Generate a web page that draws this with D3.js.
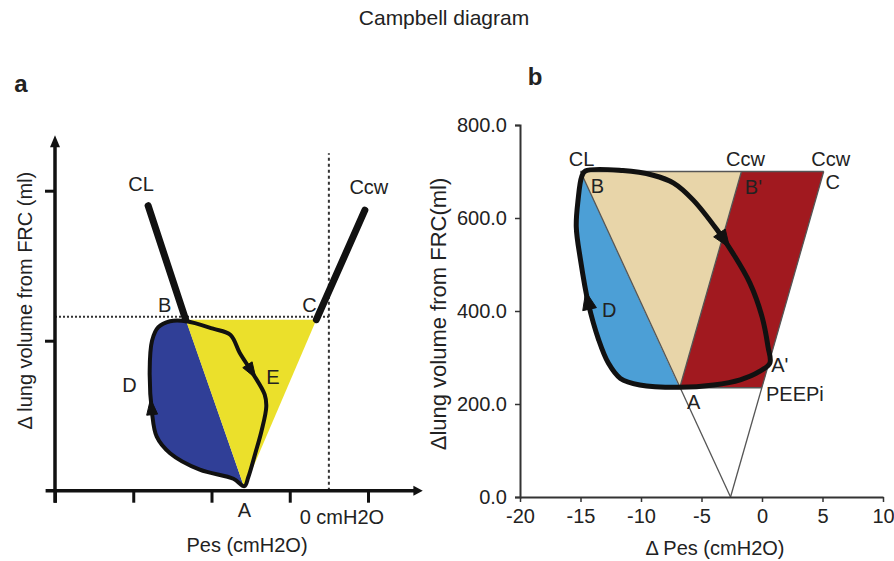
<!DOCTYPE html>
<html>
<head>
<meta charset="utf-8">
<script src="https://cdn.jsdelivr.net/npm/d3@7"></script>
<style>
  body { margin: 0; background: #fff; }
  svg { display: block; font-family: "Liberation Sans", Arial, Helvetica, sans-serif; }
</style>
</head>
<body>
<svg id="chart" width="894" height="561"></svg>
<script>
// ---------- Panel a: schematic Campbell diagram (arbitrary units) ----------
const schemeTicksX = [0, 1, 2, 3, 4];
const schemeTicksY = [1, 2];
const zeroPesA = 3.5;          // position of 0 cmH2O
const endInspVolA = 1.16;      // end-inspiratory volume level
const ptA_a = [2.42, 0.02];    // A: end expiration
const ptB_a = [1.67, 1.14];    // B: end inspiration on CL
const ptC_a = [3.34, 1.14];    // C: end inspiration on Ccw
const clEnd_a = [1.19, 1.90];
const ccwEnd_a = [3.96, 1.87];
const loopA = [
  [2.42, 0.03], [2.28, 0.08], [1.85, 0.14], [1.47, 0.25], [1.30, 0.36], [1.24, 0.52],
  [1.21, 0.80], [1.24, 1.00], [1.32, 1.09], [1.47, 1.13], [1.68, 1.13],
  [2.02, 1.08], [2.24, 1.04], [2.36, 0.92], [2.53, 0.78], [2.68, 0.64], [2.70, 0.56],
  [2.64, 0.40], [2.56, 0.25], [2.47, 0.09]
];
const loopA_B = 10;            // index of B within loopA
const arrowsA = [[2.53, 0.80], [1.22, 0.56]];

// ---------- Panel b: Campbell diagram with PEEPi ----------
const pesTicks = [-20, -15, -10, -5, 0, 5, 10];
const volTicks = [0, 200, 400, 600, 800];
const apexB = [-2.6, 0];       // common origin of CL and Ccw lines
const ptA = [-6.8, 235];
const ptPEEPi = [0, 235];
const ptB = [-15, 700];
const ptBprime = [-1.7, 700];
const ptC = [5.1, 700];
const ptAprime = [0.65, 288];
const loopB = [
  [-6.8, 236], [-10.1, 241], [-11.7, 255], [-12.7, 288], [-13.5, 338], [-14.35, 416],
  [-15.0, 510], [-15.35, 581], [-15.2, 639], [-14.9, 689], [-14.6, 701],
  [-11.5, 702], [-9.0, 692], [-7.3, 675], [-5.7, 639], [-3.7, 574], [-2.4, 524],
  [-1.0, 460], [0.0, 388], [0.5, 323], [0.65, 288],
  [-0.2, 270], [-1.8, 252], [-4.0, 241]
];
const loopB_B = 10;
const arrowsB = [[-3.06, 553], [-14.2, 424]];

const svg = d3.select("#chart");
const ink = "#111";
const textCol = "#222";

// Title and panel letters
svg.append("text").attr("x", 444).attr("y", 25).attr("text-anchor", "middle")
  .attr("font-size", 21).attr("fill", textCol).text("Campbell diagram");
svg.append("text").attr("x", 21).attr("y", 92).attr("text-anchor", "middle")
  .attr("font-size", 24).attr("font-weight", "bold").attr("fill", textCol).text("a");
svg.append("text").attr("x", 535).attr("y", 85).attr("text-anchor", "middle")
  .attr("font-size", 24).attr("font-weight", "bold").attr("fill", textCol).text("b");

// Draw an arrowhead on a path, centred at the path point nearest to target (px)
function addArrow(g, pathNode, target, len, wid) {
  const total = pathNode.getTotalLength();
  let best = 0, bestD = Infinity;
  for (let l = 0; l < total; l += 0.5) {
    const p = pathNode.getPointAtLength(l);
    const d = (p.x - target[0]) ** 2 + (p.y - target[1]) ** 2;
    if (d < bestD) { bestD = d; best = l; }
  }
  const p0 = pathNode.getPointAtLength(Math.max(0, best - 3));
  const p1 = pathNode.getPointAtLength(Math.min(total, best + 3));
  const ang = Math.atan2(p1.y - p0.y, p1.x - p0.x);
  const c = pathNode.getPointAtLength(best);
  const ux = Math.cos(ang), uy = Math.sin(ang), nx = -uy, ny = ux;
  const tip = [c.x + ux * len / 2, c.y + uy * len / 2];
  const back = [c.x - ux * len / 2, c.y - uy * len / 2];
  const pts = [tip, [back[0] + nx * wid / 2, back[1] + ny * wid / 2], [back[0] - nx * wid / 2, back[1] - ny * wid / 2]];
  g.append("path").attr("d", d3.line()(pts) + "Z").attr("fill", ink).attr("stroke", ink)
    .attr("stroke-width", 1).attr("stroke-linejoin", "round");
}

function label(g, x, y, txt, size, anchor) {
  return g.append("text").attr("x", x).attr("y", y).attr("dy", "0.36em")
    .attr("text-anchor", anchor || "middle").attr("font-size", size || 20)
    .attr("fill", textCol).text(txt);
}

// ================= Panel a =================
{
  const g = svg.append("g");
  const x = d3.scaleLinear().domain([0, 4]).range([55, 368]);
  const y = d3.scaleLinear().domain([0, 2]).range([490.7, 190.7]);
  const P = d => [x(d[0]), y(d[1])];

  // Blue area: loop from A up the left side to B, closed along the CL line
  const openCurve = d3.line().curve(d3.curveCatmullRom.alpha(0.5));
  const bluePts = loopA.slice(0, loopA_B + 1).map(P);
  g.append("path").attr("d", openCurve(bluePts) + "L" + P(ptA_a).join(",") + "Z")
    .attr("fill", "#303f97");
  // Yellow triangle B-C-A
  g.append("path").attr("d", d3.line()([ptB_a, ptC_a, ptA_a].map(P)) + "Z")
    .attr("fill", "#ebe02b");

  // Reference lines
  g.append("line").attr("x1", x(0)).attr("x2", x(zeroPesA))
    .attr("y1", y(endInspVolA)).attr("y2", y(endInspVolA))
    .attr("stroke", "#333").attr("stroke-width", 2).attr("stroke-dasharray", "2,2");
  g.append("line").attr("x1", x(zeroPesA)).attr("x2", x(zeroPesA))
    .attr("y1", y(0)).attr("y2", y(2.25))
    .attr("stroke", "#333").attr("stroke-width", 2).attr("stroke-dasharray", "3,3");

  // Axes with arrowheads
  const axisStroke = "#111";
  g.append("line").attr("x1", x(-0.12)).attr("x2", x(4.62)).attr("y1", y(0)).attr("y2", y(0))
    .attr("stroke", axisStroke).attr("stroke-width", 3.5);
  g.append("path").attr("d", d3.line()([[x(4.70), y(0)], [x(4.58), y(0) - 5], [x(4.58), y(0) + 5]]) + "Z")
    .attr("fill", axisStroke);
  g.append("line").attr("x1", x(0)).attr("x2", x(0)).attr("y1", y(-0.08)).attr("y2", y(2.30))
    .attr("stroke", axisStroke).attr("stroke-width", 3.5);
  g.append("path").attr("d", d3.line()([[x(0), y(2.37)], [x(0) - 5, y(2.29)], [x(0) + 5, y(2.29)]]) + "Z")
    .attr("fill", axisStroke);

  const xAxis = g.append("g").attr("transform", `translate(0,${y(0)})`)
    .call(d3.axisBottom(x).tickValues(schemeTicksX).tickSize(12).tickFormat(""));
  const yAxis = g.append("g").attr("transform", `translate(${x(0)},0)`)
    .call(d3.axisLeft(y).tickValues(schemeTicksY).tickSize(10).tickFormat(""));
  [xAxis, yAxis].forEach(a => {
    a.select(".domain").remove();
    a.selectAll(".tick line").attr("stroke", axisStroke).attr("stroke-width", 3);
  });

  // Compliance lines
  g.append("line").attr("x1", x(ptB_a[0])).attr("y1", y(ptB_a[1]))
    .attr("x2", x(clEnd_a[0])).attr("y2", y(clEnd_a[1]))
    .attr("stroke", ink).attr("stroke-width", 7).attr("stroke-linecap", "round");
  g.append("line").attr("x1", x(ptC_a[0])).attr("y1", y(ptC_a[1]))
    .attr("x2", x(ccwEnd_a[0])).attr("y2", y(ccwEnd_a[1]))
    .attr("stroke", ink).attr("stroke-width", 7).attr("stroke-linecap", "round");

  // Breathing loop
  const loop = g.append("path")
    .attr("d", d3.line().curve(d3.curveCatmullRomClosed.alpha(0.5))(loopA.map(P)))
    .attr("fill", "none").attr("stroke", ink).attr("stroke-width", 4).attr("stroke-linejoin", "round");
  arrowsA.forEach(t => addArrow(g, loop.node(), P(t), 16, 11));

  // Annotations
  const pa = P(ptA_a), pb = P(ptB_a), pc = P(ptC_a), pcl = P(clEnd_a), pccw = P(ccwEnd_a);
  label(g, pcl[0] - 7, pcl[1] - 22, "CL");
  label(g, pccw[0] + 4, pccw[1] - 23, "Ccw");
  label(g, pb[0] - 21, pb[1] - 15, "B");
  label(g, pc[0] - 7, pc[1] - 15, "C");
  const pd = P(arrowsA[1]), pe = P(arrowsA[0]);
  label(g, pd[0] - 21, pd[1] - 22, "D");
  label(g, pe[0] + 20, pe[1] + 6, "E");
  label(g, pa[0], pa[1] + 22, "A");
  label(g, x(zeroPesA) + 13, y(0) + 26, "0 cmH2O");
  label(g, 247, 545, "Pes (cmH2O)");
  g.append("text").attr("transform", "translate(31.5,300.7) rotate(-90)")
    .attr("text-anchor", "middle").attr("font-size", 20).attr("fill", textCol)
    .text("\u0394 lung volume from FRC (ml)");
}

// ================= Panel b =================
{
  const g = svg.append("g");
  const x = d3.scaleLinear().domain([-20, 10]).range([520, 883]);
  const y = d3.scaleLinear().domain([0, 800]).range([497, 125]);
  const P = d => [x(d[0]), y(d[1])];
  const thin = "#555";

  // Blue: loop left side between A and B, closed along the CL line
  const openCurve = d3.line().curve(d3.curveCatmullRom.alpha(0.5));
  const bluePts = loopB.slice(0, loopB_B + 1).map(P);
  g.append("path").attr("d", openCurve(bluePts) + "L" + P(ptB).join(",") + "L" + P(ptA).join(",") + "Z")
    .attr("fill", "#4c9fd6");
  // Tan triangle B-B'-A
  g.append("path").attr("d", d3.line()([ptB, ptBprime, ptA].map(P)) + "Z").attr("fill", "#e8d5a9");
  // Red quadrilateral B'-C-PEEPi-A
  g.append("path").attr("d", d3.line()([ptBprime, ptC, ptPEEPi, ptA].map(P)) + "Z").attr("fill", "#a1191f");

  // Thin construction lines
  const seg = (a, b) => g.append("line").attr("x1", x(a[0])).attr("y1", y(a[1]))
    .attr("x2", x(b[0])).attr("y2", y(b[1])).attr("stroke", thin).attr("stroke-width", 1.3);
  seg(apexB, ptB);
  seg(apexB, ptC);
  seg(ptB, ptC);
  seg(ptA, ptPEEPi);
  seg(ptA, ptBprime);

  // Axes (plain hyphen for negative tick labels)
  const xAxis = g.append("g").attr("transform", `translate(0,${y(0)})`)
    .call(d3.axisBottom(x).tickValues(pesTicks).tickSize(5).tickSizeOuter(0).tickPadding(7)
      .tickFormat(d => String(d)));
  const yAxis = g.append("g").attr("transform", `translate(${x(-20)},0)`)
    .call(d3.axisLeft(y).tickValues(volTicks).tickSize(5).tickSizeOuter(5).tickPadding(8)
      .tickFormat(d => d.toFixed(1)));
  [xAxis, yAxis].forEach(a => {
    a.select(".domain").attr("stroke", "#333").attr("stroke-width", 2);
    a.selectAll(".tick line").attr("stroke", "#333").attr("stroke-width", 1.5);
    a.selectAll(".tick text").attr("font-size", 20).attr("fill", textCol)
      .attr("font-family", "'Liberation Sans', Arial, sans-serif");
  });

  // Breathing loop
  const loop = g.append("path")
    .attr("d", d3.line().curve(d3.curveCatmullRomClosed.alpha(0.5))(loopB.map(P)))
    .attr("fill", "none").attr("stroke", ink).attr("stroke-width", 5).attr("stroke-linejoin", "round");
  arrowsB.forEach(t => addArrow(g, loop.node(), P(t), 18, 14));

  // Annotations
  const pB = P(ptB), pBp = P(ptBprime), pC = P(ptC), pA = P(ptA), pPe = P(ptPEEPi), pAp = P(ptAprime);
  label(g, pB[0] + 1, pB[1] - 13, "CL");
  label(g, pB[0] + 17, pB[1] + 14, "B");
  label(g, pBp[0] + 4, pBp[1] - 13, "Ccw");
  label(g, pBp[0] + 12, pBp[1] + 15, "B'");
  label(g, pC[0] + 7, pC[1] - 13, "Ccw");
  label(g, pC[0] + 9, pC[1] + 10, "C");
  label(g, pAp[0] + 10, pAp[1] + 2, "A'");
  label(g, pPe[0] + 4, pPe[1] + 6, "PEEPi", 20, "start");
  label(g, pA[0] + 14, pA[1] + 14, "A");
  const pD = P(arrowsB[1]);
  label(g, pD[0] + 19, pD[1] + 10, "D");
  label(g, 715, 548, "\u0394 Pes (cmH2O)");
  g.append("text").attr("transform", "translate(446,314) rotate(-90)")
    .attr("text-anchor", "middle").attr("font-size", 22).attr("fill", textCol)
    .text("\u0394lung volume from FRC(ml)");
}
</script>
</body>
</html>
